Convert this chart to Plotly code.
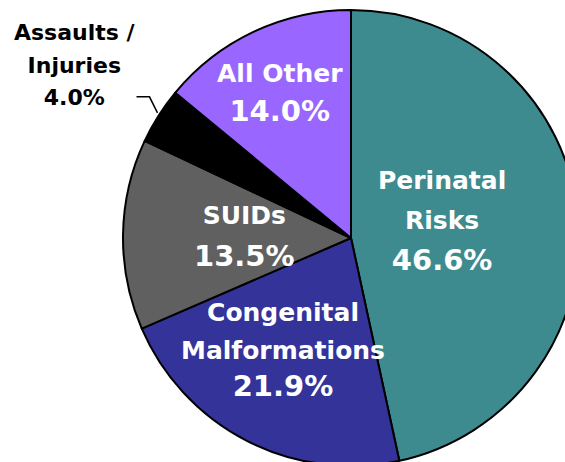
import math
import plotly.graph_objects as go

# ---- data ----
categories = ["Perinatal Risks", "Congenital Malformations", "SUIDs", "Assaults / Injuries", "All Other"]
display_labels = ["Perinatal<br>Risks", "Congenital<br>Malformations", "SUIDs", "Assaults /<br>Injuries", "All Other"]
shares = [46.6, 21.9, 13.5, 4.0, 14.0]

# ---- style ----
colors = ["#3d8b8f", "#333399", "#606060", "#000000", "#9966ff"]
text_colors = ["white", "white", "white", "black", "white"]
label_sizes = [25, 25, 25, 22, 25]
pct_sizes = [29, 29, 29, 22, 29]
line_sizes = [31, 29, 32, 25, 30]   # controls line spacing
label_rfrac = [0.405, 0.575, 0.469, 1.43, 0.704]
label_nudge_deg = [-3.9, 4.1, -0.4, -0.3, -1.0]

W, H = 579, 466
ML, MT = 123, 10
PW = W - ML
PH = H - MT
R = min(PW, PH) / 2.0
CX, CY = ML + PW / 2.0, MT + PH / 2.0


def to_paper(px, py):
    return (px - ML) / PW, (H - py) / PH


fig = go.Figure(go.Pie(
    labels=categories,
    values=shares,
    sort=False,
    direction="clockwise",
    rotation=0,
    marker=dict(colors=colors, line=dict(color="black", width=2)),
    textinfo="none",
    hoverinfo="label+value",
    showlegend=False,
    domain=dict(x=[0, 1], y=[0, 1]),
))

total = sum(shares)
cum = 0.0
annotations = []
shapes = []
for i, v in enumerate(shares):
    mid = (cum + v / 2.0) / total * 360.0
    cum += v
    th = math.radians(mid + label_nudge_deg[i])
    r = label_rfrac[i] * R
    px = CX + r * math.sin(th)
    py = CY - r * math.cos(th)
    x, y = to_paper(px, py)
    lab = display_labels[i].split("<br>")
    parts = [f"<span style='font-size:{label_sizes[i]}px'>{s}</span>" for s in lab]
    parts.append(f"<span style='font-size:{pct_sizes[i]}px'>{v:.1f}%</span>")
    text = "<br>".join(parts)
    annotations.append(dict(
        x=x, y=y, xref="paper", yref="paper", text=text, showarrow=False,
        xanchor="center", yanchor="middle", align="center",
        font=dict(family="DejaVu Sans", size=line_sizes[i], color=text_colors[i], weight="bold"),
    ))
    if label_rfrac[i] > 1:
        # leader line from slice edge to outside label
        thm = math.radians(mid)
        ex = CX + R * math.sin(thm)
        ey = CY - R * math.cos(thm)
        p0 = to_paper(ex - 1, ey - 3)
        p1 = to_paper(ex - 9, ey - 19)
        p2 = to_paper(ex - 22, ey - 19)
        shapes.append(dict(
            type="path", xref="paper", yref="paper",
            path=f"M {p0[0]},{p0[1]} L {p1[0]},{p1[1]} L {p2[0]},{p2[1]}",
            line=dict(color="black", width=1.5),
        ))

fig.update_layout(
    width=W, height=H,
    margin=dict(l=ML, r=0, t=MT, b=0, pad=0),
    paper_bgcolor="white",
    plot_bgcolor="white",
    annotations=annotations,
    shapes=shapes,
)

fig.write_html(
    "out.html",
    config={"displayModeBar": False},
    post_script="document.body.style.margin='0';document.body.style.overflow='hidden';",
)
